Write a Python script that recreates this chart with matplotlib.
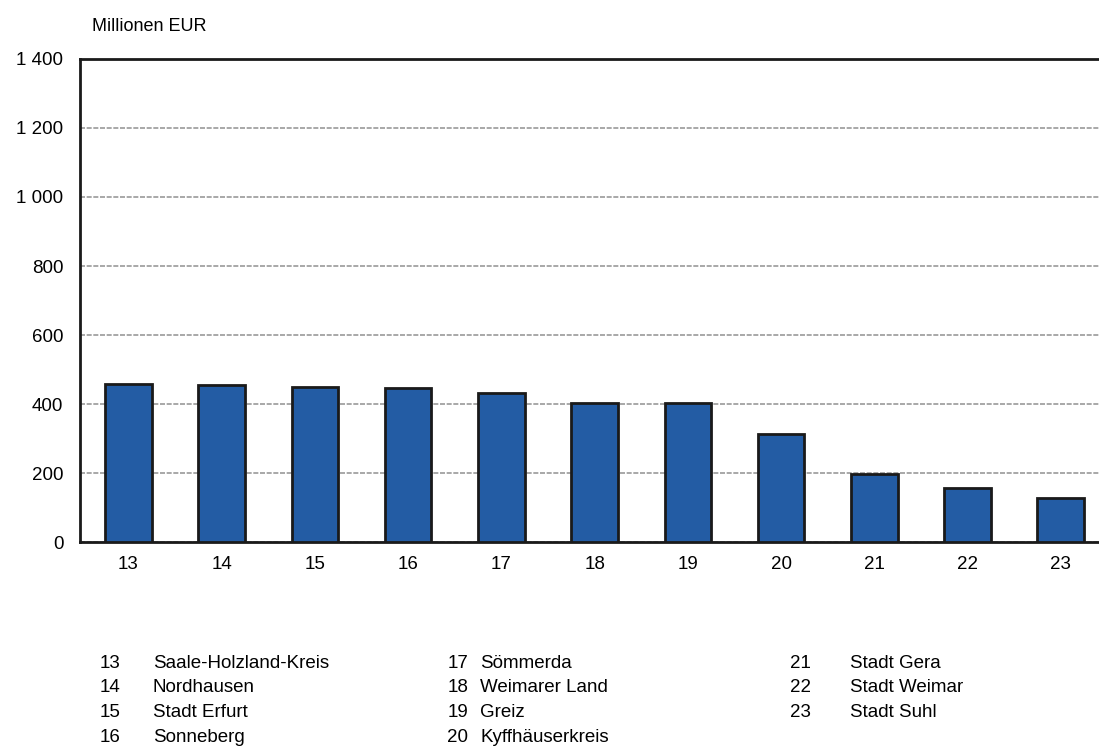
import matplotlib.pyplot as plt
import numpy as np

plt.rcParams['font.family'] = ['Liberation Sans', 'DejaVu Sans']

codes = ['13', '14', '15', '16', '17', '18', '19', '20', '21', '22', '23']
names = ['Saale-Holzland-Kreis', 'Nordhausen', 'Stadt Erfurt', 'Sonneberg',
         'Sömmerda', 'Weimarer Land', 'Greiz', 'Kyffhäuserkreis',
         'Stadt Gera', 'Stadt Weimar', 'Stadt Suhl']
values = [458, 455, 449, 446, 432, 402, 402, 313, 197, 157, 128]
yticks = [0, 200, 400, 600, 800, 1000, 1200, 1400]

fig = plt.figure(figsize=(10.99, 7.56), dpi=100)
ax = fig.add_axes([0.0728, 0.283, 0.9272, 0.639])

x = np.arange(len(codes))
ax.bar(x, values, width=0.5, color='#235ca4', edgecolor='#1a1a1a', linewidth=2, zorder=3)

ax.set_ylim(0, 1400)
ax.set_xlim(-0.52, 10.41)
ax.set_yticks(yticks)
ax.set_yticklabels([f'{v:,}'.replace(',', ' ') for v in yticks], fontsize=13.5)
ax.set_xticks(x)
ax.set_xticklabels(codes, fontsize=13.5)
ax.tick_params(length=0, pad=10)
ax.tick_params(axis='y', pad=12)
ax.yaxis.grid(True, linestyle=(0, (3, 1)), color='#999999', linewidth=1.2, zorder=0)
ax.set_axisbelow(True)

for s in ['top', 'left', 'bottom']:
    ax.spines[s].set_linewidth(2)
    ax.spines[s].set_color('#1a1a1a')
ax.spines['right'].set_visible(False)

fig.text(0.084, 0.965, 'Millionen EUR', fontsize=13, va='center')

# legend of codes
cols = [(0.091, 0.139), (0.407, 0.437), (0.719, 0.773)]
rows = [0.123, 0.090, 0.057, 0.024]
for i, (c, n) in enumerate(zip(codes, names)):
    col = i // 4
    row = i % 4
    fig.text(cols[col][0], rows[row], c, fontsize=13.5, va='center')
    fig.text(cols[col][1], rows[row], n, fontsize=13.5, va='center')

fig.savefig('out.png', dpi=100)
